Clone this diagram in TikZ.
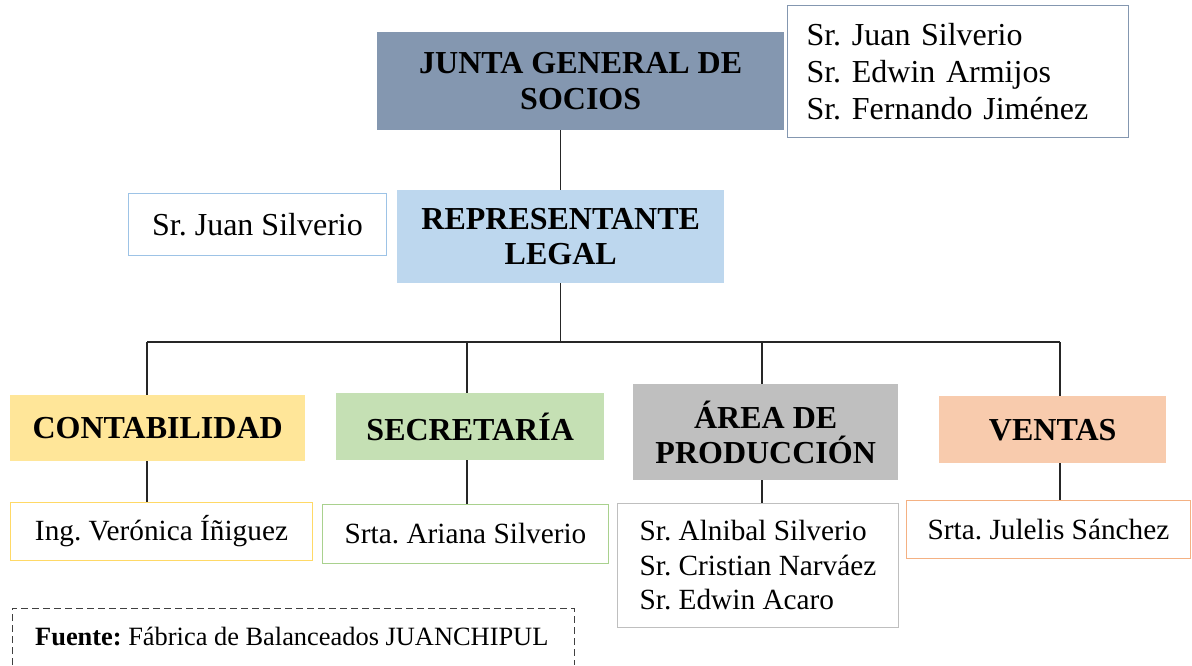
\documentclass[tikz,border=0pt]{standalone}
\usepackage{fontspec}
\setmainfont{Liberation Serif}

\definecolor{juntaBlue}{HTML}{8497B0}
\definecolor{repBlue}{HTML}{BDD7EE}
\definecolor{repLine}{HTML}{9DC3E6}
\definecolor{contGold}{HTML}{FFE699}
\definecolor{contLine}{HTML}{FFD966}
\definecolor{secrGreen}{HTML}{C5E0B4}
\definecolor{secrLine}{HTML}{A9D18E}
\definecolor{areaGray}{HTML}{BFBFBF}
\definecolor{ventOrange}{HTML}{F8CBAD}
\definecolor{ventLine}{HTML}{F4B183}

\begin{document}
\frenchspacing
\begin{tikzpicture}[x = 1pt, y = -1pt, font=\fontsize{32}{37}\selectfont]
	\tikzstyle{headStyle}=[anchor = north west, inner sep = 0pt, align = center, font = \fontsize{32}{35.5}\selectfont\bfseries]
	\tikzstyle{nameStyle}=[anchor = north west, inner sep = 0pt, align = center, fill = white, line width = 1pt]
	\tikzstyle{lowNameStyle}=[nameStyle, font = \fontsize{29.3}{34.5}\selectfont]
	\tikzstyle{lineStyle}=[line width = 1.2pt, black!85]
	\useasboundingbox (0,0) rectangle (1192,665);

	\node[headStyle, fill = juntaBlue, minimum width = 407pt, minimum height = 98pt] (junta) at (377,32) {JUNTA GENERAL DE\\SOCIOS};
	\node[nameStyle, draw = juntaBlue, text width = 303pt, inner xsep = 19pt, align = left, minimum height = 132pt] (socios) at (787,5) {Sr. Juan Silverio\\Sr. Edwin Armijos\\Sr. Fernando Jiménez};
	\node[headStyle, fill = repBlue, minimum width = 327pt, minimum height = 93pt, yshift = -2pt] (rep) at (397,188) {REPRESENTANTE\\LEGAL};
	\node[nameStyle, draw = repLine, minimum width = 258pt, minimum height = 62pt] (repName) at (128,193) {Sr. Juan Silverio};

	\node[headStyle, fill = contGold, minimum width = 295pt, minimum height = 66pt] (cont) at (10,395) {CONTABILIDAD};
	\node[headStyle, fill = secrGreen, minimum width = 268pt, minimum height = 67pt] (secr) at (336,393) {SECRETARÍA};
	\node[headStyle, fill = areaGray, minimum width = 265pt, minimum height = 96pt] (area) at (633,384) {ÁREA DE\\PRODUCCIÓN};
	\node[headStyle, fill = ventOrange, minimum width = 227pt, minimum height = 67pt] (vent) at (939,396) {VENTAS};

	\node[lowNameStyle, draw = contLine, minimum width = 302pt, minimum height = 58pt] (contName) at (10,502) {Ing. Verónica Íñiguez};
	\node[lowNameStyle, draw = secrLine, minimum width = 286pt, minimum height = 59pt] (secrName) at (322,504) {Srta. Ariana Silverio};
	\node[lowNameStyle, draw = areaGray, align = left, minimum width = 281pt, minimum height = 124pt] (areaName) at (617,503) {Sr. Alnibal Silverio\\Sr. Cristian Narváez\\Sr. Edwin Acaro};
	\node[lowNameStyle, draw = ventLine, minimum width = 284pt, minimum height = 58pt] (ventName) at (906,500) {Srta. Julelis Sánchez};

	\coordinate (bus) at (rep.south |- 0,342);
	\coordinate (busCont) at (147,342);
	\coordinate (busSecr) at (467,342);
	\coordinate (busArea) at (762,342);
	\coordinate (busVent) at (1060,342);

	\draw[lineStyle] (junta.south -| rep.north) -- (rep.north);
	\draw[lineStyle] (rep.south) -- (bus);
	\draw[lineStyle] (busCont) -- (busVent);
	\draw[lineStyle] (busCont) -- (busCont |- cont.north);
	\draw[lineStyle] (busSecr) -- (busSecr |- secr.north);
	\draw[lineStyle] (busArea) -- (busArea |- area.north);
	\draw[lineStyle] (busVent) -- (busVent |- vent.north);
	\draw[lineStyle] (busCont |- cont.south) -- (busCont |- contName.north);
	\draw[lineStyle] (busSecr |- secr.south) -- (busSecr |- secrName.north);
	\draw[lineStyle] (busArea |- area.south) -- (busArea |- areaName.north);
	\draw[lineStyle] (busVent |- vent.south) -- (busVent |- ventName.north);

	% fuente
	\node[anchor = west, inner sep = 0pt, font = \fontsize{26.4}{30}\selectfont] (fuente) at (35,636) {\textbf{Fuente:} Fábrica de Balanceados JUANCHIPUL};
	\draw[line width = 1pt, black!75, dash pattern = on 7pt off 4pt] (12,665) |- (574,608) -- (574,665);
\end{tikzpicture}
\end{document}
